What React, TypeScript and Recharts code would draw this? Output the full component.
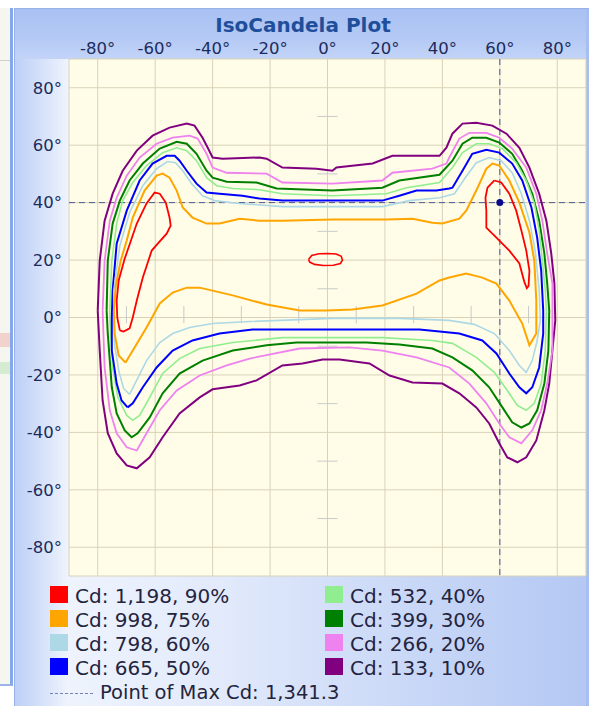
import React from 'react';
import { ComposedChart, Scatter, XAxis, YAxis, CartesianGrid, ReferenceLine } from 'recharts';

const xTicks = [-80, -60, -40, -20, 0, 20, 40, 60, 80];
const yTicks = [-80, -60, -40, -20, 0, 20, 40, 60, 80];
const minorTicks = [-70, -50, -30, -10, 10, 30, 50, 70];

const levelLabels = ['Cd: 1,198, 90%', 'Cd: 998, 75%', 'Cd: 798, 60%', 'Cd: 665, 50%', 'Cd: 532, 40%', 'Cd: 399, 30%', 'Cd: 266, 20%', 'Cd: 133, 10%'];
const levelColors = ['#ff0000', '#ffa500', '#add8e6', '#0000ff', '#90ee90', '#008000', '#ee82ee', '#800080'];

const maxPoint = [{ x: 60, y: 40 }];
const maxLabel = 'Point of Max Cd: 1,341.3';

const redLeft = [[-72.3,-4.5],[-73.2,0],[-73.4,5.9],[-72.7,12.9],[-70.6,20.5],[-66.4,32.7],[-63,39.7],[-60.2,43.5],[-58.4,43.1],[-56.3,40],[-55,34.8],[-54.6,32],[-56,29.2],[-59.1,25.7],[-61.2,23.3],[-64.3,13.9],[-66.4,5.9],[-67.8,0],[-68.9,-3.8],[-71,-4.9],[-72.3,-4.5]];
const redRight = [[58.1,47.7],[60.5,47],[63.3,43.1],[65.7,37.2],[67.5,30.3],[69.2,23.3],[70.3,16.3],[70,11],[69.4,10.2],[68.5,12.5],[66.8,18.8],[63.3,23.3],[58.8,27.8],[55.3,31.3],[55.3,37.2],[55,41.7],[55.7,45.2],[58.1,47.7]];
const redCenter = [[-6.6,20.2],[-5.5,21.6],[-3,22.2],[0,22.3],[3,22.1],[4.8,21.3],[5.2,20],[4.5,18.8],[2,18.2],[-1.5,18.1],[-4.5,18.5],[-6.2,19.3],[-6.6,20.2]];

const orange = [[-70.3,-15.7],[-72.7,-13.2],[-74.1,-5.6],[-74.4,2.4],[-73.7,11.1],[-72,19.8],[-69.9,26.8],[-67.8,34.8],[-63.7,44.2],[-59.5,49.4],[-57.4,50.1],[-55,48.7],[-52.5,44.2],[-50.4,38.3],[-47,34.8],[-42.1,32.7],[-37.6,32.7],[-30.6,34.4],[-23.7,33.7],[-15.7,33.7],[1.7,34.1],[20.5,34.1],[29.6,34.4],[36.5,33],[40,32.7],[45.9,34.4],[48.3,37.2],[51.8,44.2],[55.3,51.8],[57.4,53.6],[59.8,52.9],[63.3,47.7],[66.8,40],[70.3,29.6],[72,19.8],[72.7,5.9],[72.7,-5.6],[70.3,-9.7],[67.8,-2.1],[63.3,5.9],[58.8,11.8],[53.9,13.9],[48.3,15.3],[42.4,13.9],[39,12.9],[31,8.3],[19.1,4.2],[8.7,2.8],[-0.3,2.4],[-9.7,2.4],[-21.2,4.5],[-33,7.7],[-44.5,10.4],[-49,10.4],[-53.9,8.7],[-58.4,4.9],[-63,-3.5],[-67.8,-11.5],[-70.3,-15.7]];

const lightBlue = [[-68.9,-26.8],[-71,-24.7],[-72.7,-18.4],[-74.1,-9.7],[-74.4,0],[-74.4,9.4],[-72.3,25],[-68.9,36.5],[-64.3,45.9],[-59.5,51.8],[-55.7,54.3],[-52.9,53.9],[-50.4,51.1],[-47.3,46.6],[-43.5,42.4],[-39.3,40.7],[-30.6,39.7],[-15.7,38.6],[19.1,38.6],[28.5,40.7],[39,41.7],[44.2,43.1],[47.7,48.3],[51.8,53.9],[56.3,55.7],[60.5,54.6],[64.3,50.4],[67.5,43.1],[70.3,33.7],[72.3,23.3],[73.7,9.4],[74.1,-1],[73,-8],[71.3,-15],[69.2,-19.1],[66.8,-16.7],[63.3,-11.5],[58.1,-5.6],[51.1,-2.4],[42.4,-1],[25,-0.3],[1.7,-0.3],[-27.1,-1.4],[-40,-2.1],[-48,-3.5],[-53.9,-5.6],[-58.4,-8.7],[-63,-15],[-66.1,-21.2],[-68.9,-26.8]];

const blue = [[-69.6,-31.3],[-71.7,-28.9],[-73.4,-23],[-75.1,-11.5],[-75.1,0],[-74.8,9.4],[-73.4,25.7],[-69.9,37.2],[-65.4,47.7],[-60.9,53.6],[-56,56.3],[-53.2,56.3],[-51.5,54.6],[-49,51.1],[-45.6,46.6],[-42.1,43.5],[-37.6,43.1],[-29.6,42.4],[-23.7,41.4],[-15.7,40.7],[-0.3,40.7],[19.1,40.7],[25,42.4],[31,44.2],[37.9,44.2],[42.4,44.9],[43.5,45.2],[47,51.1],[50.4,57],[55.3,58.4],[59.8,57.4],[64.3,53.6],[67.8,47.7],[71,38.3],[73,27.8],[74.4,16.3],[75.1,2.4],[75.1,-5.6],[73.7,-17.4],[71.3,-24.3],[69.2,-26.4],[66.8,-24.3],[63.3,-19.5],[58.8,-12.5],[53.9,-8],[45.9,-5.6],[39,-4.9],[32,-4.2],[25,-4.2],[-9.7,-4.2],[-26.1,-4.2],[-37.6,-5.6],[-47,-8],[-53.9,-11.5],[-59.5,-17.4],[-64.3,-24.3],[-67.8,-29.9],[-69.6,-31.3]];

const lightGreen = [[-75.8,2.4],[-75.1,19.8],[-73.4,32.7],[-71.3,40.7],[-67.8,47],[-63,52.9],[-57.4,57.4],[-52.5,59.1],[-49,58.1],[-45.6,54.6],[-42.1,48.7],[-38.6,45.9],[-33,44.9],[-23.7,44.5],[-15.7,43.1],[1.7,42.4],[20.5,43.1],[27.5,45.2],[39,47],[43.5,52.2],[47,57.4],[51.8,60.5],[56.3,60.5],[60.9,58.8],[65.7,53.9],[69.2,47.7],[72,39.7],[73.7,30.3],[74.8,19.8],[75.8,9.4],[76.2,2.4],[75.8,-11.5],[74.4,-23],[72,-29.9],[69.2,-32.3],[66.1,-30.6],[62.6,-25.4],[58.1,-19.1],[51.8,-13.9],[43.5,-9],[36.5,-8],[19.1,-7],[-15.7,-7],[-33,-8.7],[-44.5,-10.8],[-51.5,-14.3],[-57.4,-19.5],[-61.9,-27.8],[-65.4,-34.1],[-67.8,-35.8],[-69.9,-34.1],[-73,-27.8],[-74.8,-17.4],[-75.8,0],[-75.8,2.4]];

const green = [[-76.9,2.4],[-76.5,19.8],[-74.8,32.7],[-72.3,40.7],[-68.9,47.7],[-64.3,53.6],[-58.4,58.8],[-52.5,61.2],[-49,60.5],[-45.6,57],[-42.1,51.1],[-40,48.7],[-35.1,47.3],[-24.7,47],[-17.7,44.9],[1.7,44.2],[19.1,45.2],[25,47.7],[39,49.7],[43.5,54.6],[47,60.5],[50.4,62.6],[55.3,62.6],[59.8,60.9],[64.3,57],[67.8,51.1],[71.3,43.1],[73.7,33.7],[75.5,22.3],[76.5,11.8],[77.2,2.4],[76.9,-11.5],[75.5,-23],[73,-32.3],[70.3,-36.9],[67.5,-38.3],[64.3,-36.5],[60.9,-31.3],[56.3,-24.3],[50.4,-18.4],[43.5,-13.9],[36.5,-10.8],[25,-9.4],[13.6,-8.7],[-10.8,-8.7],[-21.2,-9.7],[-33,-11.5],[-43.5,-15],[-51.5,-19.5],[-57.4,-26.4],[-61.9,-34.8],[-66.1,-40.3],[-68.2,-41.7],[-70.6,-39.3],[-73.4,-33.4],[-75.1,-24.3],[-76.5,-5.6],[-76.9,2.4]];

const pink = [[-78.3,2.4],[-77.6,19.8],[-75.8,33.7],[-73.4,41.7],[-69.9,49.4],[-65.4,55.7],[-59.5,60.5],[-53.9,62.6],[-48,63.3],[-45.2,62.3],[-42.1,57],[-40,52.2],[-35.1,50.4],[-21.2,50.1],[-15.7,47],[1.7,46.6],[19.1,47.7],[22.6,50.4],[36.5,51.8],[41.4,53.6],[42.4,55.7],[45.9,62.3],[49.4,64.3],[55.3,64.3],[59.8,62.6],[64.3,58.8],[69.2,52.2],[72.7,43.1],[74.8,33.7],[76.5,22.3],[78.3,11.8],[78.3,-11.5],[76.5,-23],[74.4,-32.3],[71.3,-39.3],[67.5,-43.8],[63.3,-41.7],[59.8,-36.9],[55.3,-29.9],[49.4,-23],[42.4,-17.4],[31,-13.9],[19.1,-11.5],[7.7,-10.4],[-9.7,-10.8],[-27.1,-14.3],[-35.1,-16.7],[-44.5,-20.2],[-52.5,-25.4],[-58.4,-32.3],[-63,-40.3],[-66.4,-46.3],[-69.9,-45.2],[-73.4,-40.3],[-75.8,-32.3],[-77.6,-17.4],[-78.3,2.4]];

const purple = [[-80,2.4],[-79.3,19.8],[-77.6,33.7],[-74.8,43.1],[-71.3,51.1],[-66.4,58.1],[-60.9,63.3],[-55,66.1],[-49,67.5],[-46.3,66.8],[-43.5,62.6],[-41.7,59.1],[-40,55.7],[-36.5,55.3],[-23.7,55.7],[-21.2,55.3],[-15.7,52.2],[-3.8,51.8],[1.7,51.1],[3.1,52.2],[15.7,53.6],[22.6,56.3],[39,56.3],[41.4,59.1],[43.5,64],[47,67.5],[51.8,67.8],[57.4,66.8],[62.3,64],[66.8,59.1],[70.3,52.2],[73.7,43.1],[76.2,33.7],[77.9,22.3],[79,11.8],[79.3,-1],[78.3,-11.5],[77.2,-23],[75.5,-32.3],[72.7,-42.8],[69.2,-48.7],[66.1,-50.4],[62.6,-48.7],[59.8,-43.8],[56.3,-36.9],[51.8,-31.3],[45.9,-26.4],[40,-23],[29.6,-22.6],[21.6,-20.2],[14.6,-16],[4.2,-14.6],[-1.7,-14.6],[-8.7,-16],[-15.7,-16.7],[-24.7,-21.9],[-30.6,-23.7],[-40,-25],[-44.5,-27.8],[-51.5,-33.4],[-57.4,-41.7],[-61.9,-48.7],[-66.4,-52.5],[-69.9,-51.5],[-73.4,-47.3],[-76.5,-40.3],[-78.3,-28.9],[-79.3,-11.5],[-80,2.4]];

const toPts = (arr: number[][]) => arr.map(([x, y]) => ({ x, y }));

const series = [
  { key: 'purple', data: purple, color: levelColors[7], w: 2 },
  { key: 'pink', data: pink, color: levelColors[6], w: 1.8 },
  { key: 'green', data: green, color: levelColors[5], w: 2 },
  { key: 'lightGreen', data: lightGreen, color: levelColors[4], w: 1.6 },
  { key: 'blue', data: blue, color: levelColors[3], w: 2 },
  { key: 'lightBlue', data: lightBlue, color: levelColors[2], w: 1.6 },
  { key: 'orange', data: orange, color: levelColors[1], w: 2 },
  { key: 'redLeft', data: redLeft, color: levelColors[0], w: 1.8 },
  { key: 'redRight', data: redRight, color: levelColors[0], w: 1.8 },
  { key: 'redCenter', data: redCenter, color: levelColors[0], w: 1.6 },
];

const font = '"DejaVu Sans", Verdana, sans-serif';
const tickStyle = { fontSize: 16.5, fill: '#1d2b5c', fontFamily: font };
const fmt = (v: number) => `${v}°`;
const noShape = () => <g />;

export default function App() {
  return (
    <div style={{ position: 'absolute', left: 0, top: 0, width: 589, height: 706, overflow: 'hidden', background: '#ffffff', fontFamily: font }}>
      {/* background window strip */}
      <div style={{ position: 'absolute', left: 0, top: 8, width: 10, height: 676, background: '#f6f6f0', borderRight: '3px solid #86a7ea', borderBottom: '2px solid #9bb4e6' }} />
      <div style={{ position: 'absolute', left: 0, top: 60, width: 10, height: 1, background: '#cfcfc8' }} />
      <div style={{ position: 'absolute', left: 0, top: 333, width: 10, height: 14, background: '#f2d2cc' }} />
      <div style={{ position: 'absolute', left: 0, top: 362, width: 10, height: 12, background: '#d6ecd2' }} />
      {/* main panel */}
      <div style={{ position: 'absolute', left: 14, top: 8, width: 580, height: 700, borderLeft: '1px solid #98b2e8', borderTop: '1px solid #98b2e8', background: 'linear-gradient(to right, #bccff6 0%, #eef3fd 9%, #e2eafb 35%, #c8d7f7 70%, #b3c7f3 100%)' }} />
      <div style={{ position: 'absolute', left: 15, top: 9, width: 574, height: 50, background: 'linear-gradient(to bottom, #a9c1f3 0%, #b4c9f4 60%, #c3d4f7 100%)' }} />
      <div style={{ position: 'absolute', left: 586, top: 9, width: 3, height: 697, background: '#a6bef1' }} />
      <div style={{ position: 'absolute', left: 0, top: 13, width: 606, textAlign: 'center', fontSize: 20, lineHeight: '24px', fontWeight: 'bold', color: '#1f4f9b' }}>IsoCandela Plot</div>

      <div style={{ position: 'absolute', left: 0, top: 0 }}>
        <ComposedChart width={589} height={706} margin={{ top: 29, left: 9, right: 3, bottom: 130 }}>
          <CartesianGrid stroke="#d9d2b8" fill="#fffde8" fillOpacity={1} />
          <XAxis dataKey="x" type="number" orientation="top" domain={[-90, 90]} ticks={xTicks} tickFormatter={fmt} axisLine={false} tickLine={false} tickSize={0} tickMargin={5} height={30} tick={tickStyle} allowDataOverflow interval={0} />
          <YAxis dataKey="y" type="number" domain={[-90, 90]} ticks={yTicks} tickFormatter={fmt} axisLine={false} tickLine={false} tickSize={0} tickMargin={7} width={60} tick={tickStyle} allowDataOverflow interval={0} />
          {minorTicks.map((t) => (
            <ReferenceLine key={'mh' + t} segment={[{ x: -3.5, y: t }, { x: 3.5, y: t }]} stroke="#c9c9c9" strokeWidth={1} ifOverflow="extendDomain" />
          ))}
          {minorTicks.map((t) => (
            <ReferenceLine key={'mv' + t} segment={[{ x: t, y: -2 }, { x: t, y: 4 }]} stroke="#c9c9c9" strokeWidth={1} ifOverflow="extendDomain" />
          ))}
          {series.map((s) => (
            <Scatter key={s.key} data={toPts(s.data)} fill={s.color} line={{ stroke: s.color, strokeWidth: s.w }} lineType="joint" shape={noShape} isAnimationActive={false} />
          ))}
          <ReferenceLine y={maxPoint[0].y} stroke="#4b5a94" strokeDasharray="6 4" strokeWidth={1} />
          <ReferenceLine x={maxPoint[0].x} stroke="#4b5a94" strokeDasharray="6 4" strokeWidth={1} />
          <Scatter data={maxPoint} fill="#0a0a8a" shape={(p: any) => <circle cx={p.cx} cy={p.cy} r={3.5} fill="#0a0a8a" />} isAnimationActive={false} />
        </ComposedChart>
      </div>

      {levelLabels.map((lab, i) => {
        const col = i < 4 ? 0 : 1;
        const row = i % 4;
        const sx = col === 0 ? 50 : 325;
        return (
          <React.Fragment key={lab}>
            <div style={{ position: 'absolute', left: sx, top: 586 + row * 24, width: 18, height: 17, background: levelColors[i] }} />
            <div style={{ position: 'absolute', left: sx + 25, top: 584 + row * 24, fontSize: 20, lineHeight: '24px', color: '#24243e', whiteSpace: 'nowrap' }}>{lab}</div>
          </React.Fragment>
        );
      })}
      <div style={{ position: 'absolute', left: 50, top: 693, width: 43, height: 0, borderTop: '1.5px dashed #7484b4' }} />
      <div style={{ position: 'absolute', left: 100, top: 683, fontSize: 19.5, lineHeight: '20px', color: '#24243e', whiteSpace: 'nowrap' }}>{maxLabel}</div>
    </div>
  );
}
